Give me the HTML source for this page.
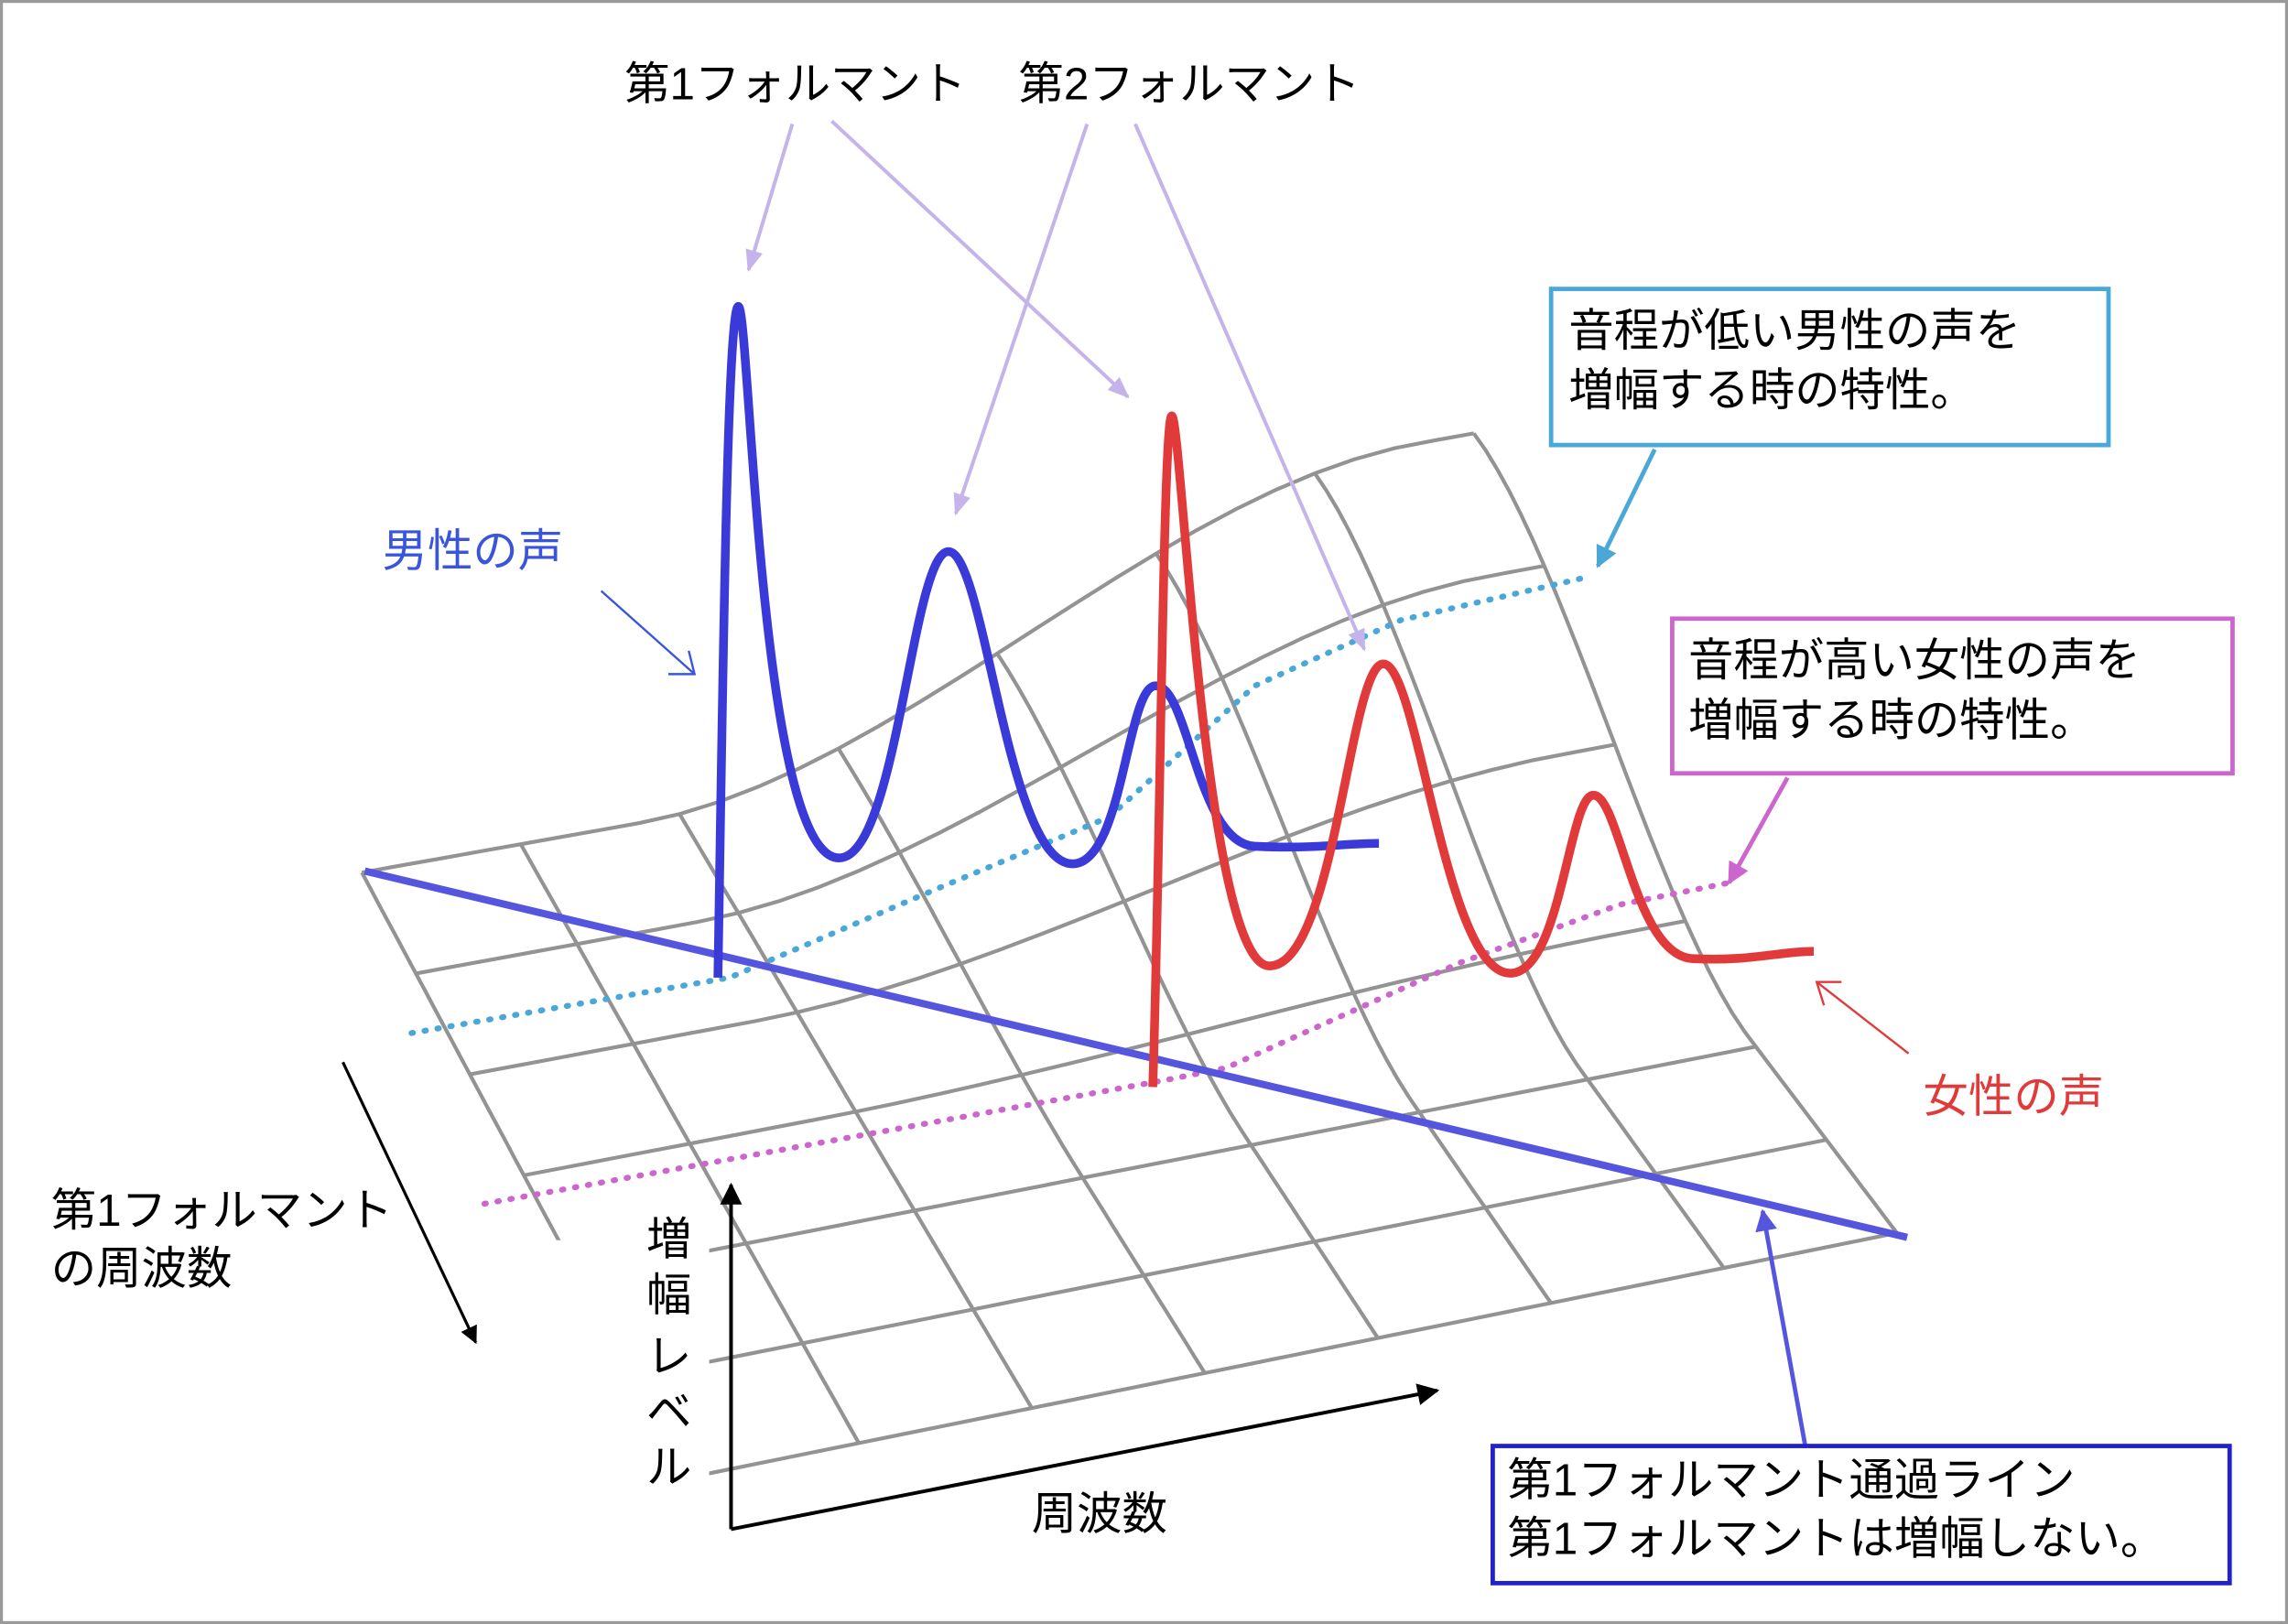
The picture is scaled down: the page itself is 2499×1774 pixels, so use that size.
<!DOCTYPE html>
<html><head><meta charset="utf-8"><style>
html,body{margin:0;padding:0;background:#fff}
svg{display:block}
text{font-family:"Liberation Sans","Noto Sans CJK JP",sans-serif;font-size:31px}
</style></head><body>
<svg id="s" width="2499" height="1774" viewBox="0 0 1568 1113" preserveAspectRatio="none" xmlns="http://www.w3.org/2000/svg">
<defs>
<marker id="ah" viewBox="0 0 10 10" refX="9" refY="5" markerWidth="6" markerHeight="6" orient="auto"><path d="M0,0L10,5L0,10z" fill="#000"/></marker>
<marker id="al" viewBox="0 0 10 10" refX="9" refY="5" markerWidth="6" markerHeight="6" orient="auto"><path d="M0,1L10,5L0,9z" fill="#c4b4ea"/></marker>
<marker id="ac" viewBox="0 0 10 10" refX="9" refY="5" markerWidth="5" markerHeight="5" orient="auto"><path d="M0,0L10,5L0,10z" fill="#4aa8d8"/></marker>
<marker id="am" viewBox="0 0 10 10" refX="9" refY="5" markerWidth="5" markerHeight="5" orient="auto"><path d="M0,0L10,5L0,10z" fill="#cc66cc"/></marker>
<marker id="ab" viewBox="0 0 10 10" refX="9" refY="5" markerWidth="5" markerHeight="5" orient="auto"><path d="M0,0L10,5L0,10z" fill="#5555dd"/></marker>
<clipPath id="gc"><path d="M0,0H1568V1113H486V850H0Z"/></clipPath>
</defs>
<rect x="1" y="1" width="1566" height="1111" fill="#fff" stroke="#999" stroke-width="2"/>
<g id="grid" stroke="#939393" stroke-width="2.6" fill="none" clip-path="url(#gc)"></g>
<polyline points="282,708 500,670 640,610 700,585 760,560 860,470 960,425 1090,395" fill="none" stroke="#4aa8d8" stroke-width="4" stroke-dasharray="1,8" stroke-linecap="round"/>
<polyline points="332,825 800,740 840,732 900,705 1000,660 1110,620 1185,605" fill="none" stroke="#cc66cc" stroke-width="4" stroke-dasharray="1,8" stroke-linecap="round"/>
<line x1="250" y1="597" x2="1307" y2="848" stroke="#5555dd" stroke-width="5"/>
<path d="M492,670 C495,500 498,210 506,210 C514,210 520,588 575,588 C615,588 625,378 650,378 C675,378 690,592 735,592 C770,592 772,470 792,470 C815,470 820,578 860,580 C900,582 920,578 945,578" fill="none" stroke="#3a3ad8" stroke-width="6"/>
<path d="M790,745 C795,600 797,285 803,285 C810,285 825,662 870,662 C915,662 925,455 948,455 C972,455 990,667 1035,667 C1070,667 1075,545 1092,545 C1110,545 1120,655 1160,657 C1200,659 1220,652 1243,652" fill="none" stroke="#e03a3a" stroke-width="6"/>
<line x1="501" y1="1048" x2="501" y2="812" stroke="#000" stroke-width="2.5" marker-end="url(#ah)"/>
<line x1="501" y1="1048" x2="985" y2="953" stroke="#000" stroke-width="2.5" marker-end="url(#ah)"/>
<line x1="235" y1="728" x2="326" y2="920" stroke="#000" stroke-width="2" marker-end="url(#ah)"/>
<g stroke="#c4b4ea" stroke-width="2.5" marker-end="url(#al)">
<line x1="543" y1="85" x2="513" y2="185"/>
<line x1="570" y1="83" x2="773" y2="272"/>
<line x1="745" y1="85" x2="655" y2="352"/>
<line x1="778" y1="85" x2="935" y2="445"/>
</g>
<line x1="412" y1="405" x2="476" y2="462" stroke="#3a55dd" stroke-width="1.5"/>
<polyline points="458,462 476,462 472,446" fill="none" stroke="#3a55dd" stroke-width="1.5"/>
<line x1="1308" y1="722" x2="1245" y2="673" stroke="#e03a3a" stroke-width="1.5"/>
<polyline points="1262,673 1245,673 1250,689" fill="none" stroke="#e03a3a" stroke-width="1.5"/>
<line x1="1134" y1="308" x2="1095" y2="388" stroke="#4aa8d8" stroke-width="3" marker-end="url(#ac)"/>
<line x1="1225" y1="533" x2="1185" y2="605" stroke="#cc66cc" stroke-width="3" marker-end="url(#am)"/>
<line x1="1237" y1="990" x2="1208" y2="830" stroke="#5555dd" stroke-width="3" marker-end="url(#ab)"/>
<rect x="1063" y="198" width="382" height="107" fill="#fff" stroke="#4aa8d8" stroke-width="3"/>
<rect x="1146" y="424" width="384" height="106" fill="#fff" stroke="#cc66cc" stroke-width="3"/>
<rect x="1023" y="991" width="505" height="94" fill="#fff" stroke="#2222cc" stroke-width="3"/>
<text x="428" y="68">第1フォルマント</text>
<text x="698" y="68">第2フォルマント</text>
<text x="1075" y="237">音程が低い男性の声を</text>
<text x="1075" y="278">増幅する時の特性。</text>
<text x="1157" y="463">音程が高い女性の声を</text>
<text x="1157" y="504">増幅する時の特性。</text>
<text x="1033" y="1025">第1フォルマント通過ライン</text>
<text x="1033" y="1065">第1フォルマントは増幅しない。</text>
<text x="262" y="388" fill="#3a55dd">男性の声</text>
<text x="1318" y="762" fill="#e03a3a">女性の声</text>
<text x="35" y="840">第1フォルマント</text>
<text x="35" y="880">の周波数</text>
<text x="707" y="1048">周波数</text>
<text x="443" y="860">増</text><text x="443" y="898">幅</text><text x="443" y="940">レ</text><text x="443" y="978">ベ</text><text x="443" y="1016">ル</text>
</svg>
<script>
(function(){
var g=document.getElementById('grid');
var BL=[248,598],BR=[1010,462],FL=[470,1013],FR=[1300,845];
function ss(a,b,t){t=Math.max(0,Math.min(1,(t-a)/(b-a)));return t*t*(3-2*t);}
function pt(u,v){
 var x=(1-u)*(1-v)*BL[0]+u*(1-v)*BR[0]+(1-u)*v*FL[0]+u*v*FR[0];
 var y=(1-u)*(1-v)*BL[1]+u*(1-v)*BR[1]+(1-u)*v*FL[1]+u*v*FR[1];
 var h=165*ss(0.25,0.95,u)*(1-ss(0,0.65,v));
 return [x,y-h];
}
var NU=7,NV=6,i,j,d;
for(j=0;j<=NV;j++){d='';for(i=0;i<=NU*4;i++){var p=pt(i/(NU*4),j/NV);d+=(i?'L':'M')+p[0].toFixed(1)+','+p[1].toFixed(1);}add(d);}
for(i=0;i<=NU;i++){d='';for(j=0;j<=NV*6;j++){var p=pt(i/NU,j/(NV*6));d+=(j?'L':'M')+p[0].toFixed(1)+','+p[1].toFixed(1);}add(d);}
function add(d){var e=document.createElementNS('http://www.w3.org/2000/svg','path');e.setAttribute('d',d);g.appendChild(e);}
})();
</script>
</body></html>
